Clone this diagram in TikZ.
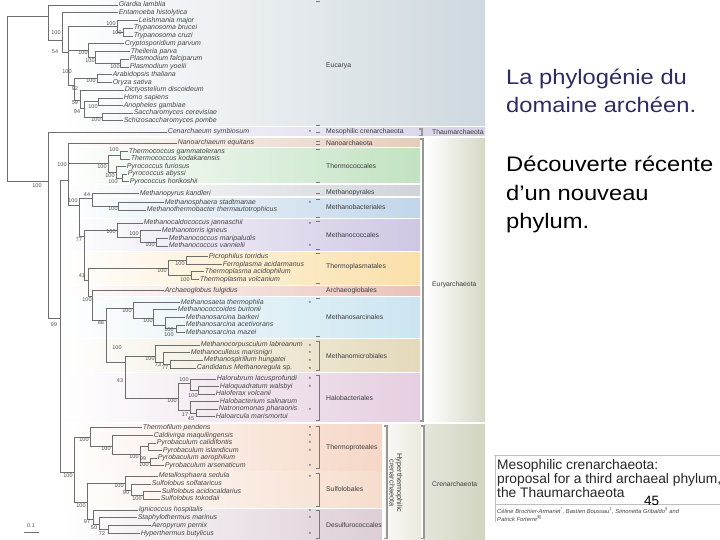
\documentclass[tikz,border=0pt]{standalone}
\usepackage{fontspec}
\setmainfont{Liberation Sans}
\usepackage{tikz}
\definecolor{treegray}{RGB}{110,110,110}
\definecolor{leafgray}{RGB}{70,70,70}
\definecolor{bootgray}{RGB}{80,80,80}
\definecolor{grpgray}{RGB}{60,60,60}
\definecolor{tickgray}{RGB}{120,120,120}
\definecolor{cladegray}{RGB}{150,150,150}
\definecolor{titleblue}{RGB}{44,44,98}
\definecolor{cEuc}{RGB}{206,216,222}
\definecolor{cMeso}{RGB}{214,209,230}
\definecolor{cNano}{RGB}{229,205,188}
\definecolor{cTcoc}{RGB}{194,226,194}
\definecolor{cMpyr}{RGB}{208,212,217}
\definecolor{cMbac}{RGB}{193,214,234}
\definecolor{cMcoc}{RGB}{206,199,227}
\definecolor{cTpla}{RGB}{250,223,168}
\definecolor{cArch}{RGB}{233,194,186}
\definecolor{cMsar}{RGB}{203,229,240}
\definecolor{cMmic}{RGB}{228,217,186}
\definecolor{cHalo}{RGB}{229,206,224}
\definecolor{cTpro}{RGB}{245,215,198}
\definecolor{cSulf}{RGB}{246,221,205}
\definecolor{cDesu}{RGB}{221,206,213}
\definecolor{cEury}{RGB}{214,216,198}
\definecolor{cCren}{RGB}{210,213,193}
\definecolor{cHyp}{RGB}{236,234,222}
\tikzstyle{branch} = [draw=treegray, line width=0.55pt]
\tikzstyle{leaf} = [anchor=west, inner sep=0.6pt, text height=5pt, text depth=1.5pt, text=leafgray, font=\fontsize{7}{8}\selectfont\itshape]
\tikzstyle{boot} = [inner sep=0pt, text=bootgray, font=\fontsize{5.5}{6}\selectfont]
\tikzstyle{grp} = [anchor=west, inner sep=0pt, text=grpgray, font=\fontsize{6.8}{8}\selectfont]
\tikzstyle{star} = [inner sep=0pt, text=grpgray, font=\fontsize{6}{6}\selectfont]
\tikzstyle{tick} = [draw=tickgray, line width=0.5pt]
\tikzstyle{clade} = [draw=cladegray, line width=1.1pt]
\tikzstyle{boxline} = [draw=black!25, line width=0.7pt]
\tikzstyle{headline} = [anchor=base west, inner sep=0pt, font=\fontsize{21}{28}\selectfont]

\begin{document}
\begin{tikzpicture}[x=1pt,y=-1pt]
    \useasboundingbox (0,0) rectangle (720,540);

    % clade bands
    \foreach \ya/\yb/\xr/\c in {0/126/485/cEuc, 128/136/485/cMeso,
        138.5/146.5/420/cNano, 148.5/183/420/cTcoc, 186/196/420/cMpyr,
        198.5/218/420/cMbac, 220/250/420/cMcoc, 252/284.5/420/cTpla,
        286/295.5/420/cArch, 297.5/337.5/420/cMsar, 339.5/371.5/420/cMmic,
        373.5/421.5/420/cHalo, 424.5/470/382/cTpro, 471.5/507.5/382/cSulf,
        509/540/382/cDesu}{
        \shade[left color=white, right color=\c] (60,\ya) rectangle (\xr,\yb);
    }
    \shade[left color=white, right color=cEury] (425,138.5) rectangle (485,421.5);
    \shade[left color=cHyp!30, right color=cHyp] (384,424.5) rectangle (421,540);
    \shade[left color=cCren!60, right color=cCren] (424,424.5) rectangle (485,540);

    % internal nodes of the tree
    \foreach \n/\x/\y in {root/7/100, nE/48/16, nE1/62/40, nE2/68/52,
        nKin/117/26.4, nTry/123/32, nApi/88/50, nTP/95/57.3, nPl/120/63,
        nPD/74/85, nPlant/97/78.5, nDO/80/100, nOp/84/108, nAnim/98/101.6,
        nFungi/102/116.8, nA/48/181, nA1/60/318, nEu/68/180, nTc/108/163,
        nTk/120/155.2, nPy/116/172, nPy2/122/177.8, nEu1/79/205,
        nMpMb/92/198, nMb/118/206.2, nEu2/84/236, nMc/117/230,
        nMc1/140/237, nMc2/156/242, nEu3/88/280, nTp/168/268,
        nPF/186/260.5, nTa/191/275.5, nEu4/92/296, nEu5/106/320,
        nMs/133/308, nMs1/153/318, nMs2/165/325, nMs3/176/328.7,
        nEu6/125/362, nMm/155/356, nMm1/163/362, nMm2/170/364,
        nHb/178/398, nHb1/190/383, nHb3/198/390.2, nHb2/190/410,
        nHb4/196/412.9, nC/74/472, nTpr/90/437, nTpr1/112/446,
        nPb/140/454, nPb1/148/446.6, nPb2/150/461.8, nSD/87/502,
        nSulf/125/483, nSu1/131/490, nSu2/143/495.2, nDes/93/519,
        nDes1/99/524, nDes2/108/529.5}{
        \coordinate (\n) at (\x,\y);
    }

    % species
    \foreach \n/\x/\y/\t in {giardia/118/5/Giardia lamblia,
        entam/118/12.7/Entamoeba histolytica,
        leish/138/20.7/Leishmania major,
        tbru/133/28.2/Trypanosoma brucei,
        tcru/133/35.8/Trypanosoma cruzi,
        crypto/124/43.7/Cryptosporidium parvum,
        theil/130/51.6/Theileria parva,
        pfal/129/59.2/Plasmodium falciparum,
        pyoe/129/66.8/Plasmodium yoelii,
        arab/112/74.7/Arabidopsis thaliana,
        oryza/112/82.3/Oryza sativa,
        dicty/124/90.2/Dictyostelium discoideum,
        homo/123/97.8/Homo sapiens,
        anoph/123/105.4/Anopheles gambiae,
        sacch/133/113/Saccharomyces cerevisiae,
        schizo/123/120.5/Schizosaccharomyces pombe,
        cenar/167/131.9/Cenarchaeum symbiosum,
        nano/177/142.9/Nanoarchaeum equitans,
        tgam/128/151.5/Thermococcus gammatolerans,
        tkod/130/159/Thermococcus kodakarensis,
        pfur/126/166.7/Pyrococcus furiosus,
        paby/127/174.2/Pyrococcus abyssi,
        phor/129/181.5/Pyrococcus horikoshii,
        mkan/139/193.5/Methanopyrus kandleri,
        msta/164/202.5/Methanosphaera stadtmanae,
        mthe/146/210/Methanothermobacter thermautotrophicus,
        mjan/143/223/Methanocaldococcus jannaschii,
        mign/161/230.7/Methanotorris igneus,
        mmar/168/238.3/Methanococcus maripaludis,
        mvan/168/245.9/Methanococcus vannielii,
        ptor/208/256.5/Picrophilus torridus,
        facid/222/264.5/Ferroplasma acidarmanus,
        taci/204/271.7/Thermoplasma acidophilum,
        tvol/199/279.3/Thermoplasma volcanium,
        arch/164/290.3/Archaeoglobus fulgidus,
        msae/180/302.7/Methanosaeta thermophila,
        mbur/177/309.6/Methanococcoides burtonii,
        mbar/185/317.5/Methanosarcina barkeri,
        mace/185/325/Methanosarcina acetivorans,
        mmaz/185/332.3/Methanosarcina mazei,
        mcor/200/345/Methanocorpusculum labreanum,
        mcul/190/352.6/Methanoculleus marisnigri,
        mspi/203/360.2/Methanospirillum hungatei,
        cand/196/368.1/Candidatus Methanoregula {\upshape sp.},
        hlac/216/378.8/Halorubrum lacusprofundi,
        hwal/219/386.4/Haloquadratum walsbyi,
        hvol/215/394/Haloferax volcanii,
        hsal/219/401.5/Halobacterium salinarum,
        npha/218/409.1/Natronomonas pharaonis,
        hmar/215/416.7/Haloarcula marismortui,
        tpen/142/427.7/Thermofilum pendens,
        cmaq/153/435.3/Caldivirga maquilingensis,
        pcal/156/442.8/Pyrobaculum calidifontis,
        pisl/162/450.4/Pyrobaculum islandicum,
        paer/157/458/Pyrobaculum aerophilum,
        pars/164/465.6/Pyrobaculum arsenaticum,
        msed/158/476.2/Metallosphaera sedula,
        ssol/151/483.8/Sulfolobus solfataricus,
        saci/161/491.4/Sulfolobus acidocaldarius,
        stok/160/499/Sulfolobus tokodaii,
        ihos/138/510/Ignicoccus hospitalis,
        smar/137/517.6/Staphylothermus marinus,
        aper/151/525.5/Aeropyrum pernix,
        hbut/140/533.4/Hyperthermus butylicus}{
        \node[leaf] (\n) at (\x,\y) {\t};
    }

    % branches
    \foreach \p/\c in {root/nE, root/nA, nE/giardia, nE/nE1, nE1/entam,
        nE1/nE2, nE2/nKin, nE2/nApi, nE2/nPD, nKin/leish, nKin/nTry,
        nTry/tbru, nTry/tcru, nApi/crypto, nApi/nTP, nTP/theil, nTP/nPl,
        nPl/pfal, nPl/pyoe, nPD/nPlant, nPD/nDO, nPlant/arab,
        nPlant/oryza, nDO/dicty, nDO/nOp, nOp/nAnim, nOp/nFungi,
        nAnim/homo, nAnim/anoph, nFungi/sacch, nFungi/schizo,
        nA/cenar, nA/nA1, nA1/nEu, nA1/nC, nEu/nano, nEu/nTc, nEu/nEu1,
        nTc/nTk, nTc/nPy, nTk/tgam, nTk/tkod, nPy/pfur, nPy/nPy2,
        nPy2/paby, nPy2/phor, nEu1/nMpMb, nEu1/nEu2, nMpMb/mkan,
        nMpMb/nMb, nMb/msta, nMb/mthe, nEu2/nMc, nEu2/nEu3, nMc/mjan,
        nMc/nMc1, nMc1/mign, nMc1/nMc2, nMc2/mmar, nMc2/mvan, nEu3/nTp,
        nEu3/nEu4, nTp/nPF, nTp/nTa, nPF/ptor, nPF/facid, nTa/taci,
        nTa/tvol, nEu4/arch, nEu4/nEu5, nEu5/nMs, nEu5/nEu6, nMs/msae,
        nMs/nMs1, nMs1/mbur, nMs1/nMs2, nMs2/mbar, nMs2/nMs3, nMs3/mace,
        nMs3/mmaz, nEu6/nMm, nEu6/nHb, nMm/mcor, nMm/nMm1, nMm1/mcul,
        nMm1/nMm2, nMm2/mspi, nMm2/cand, nHb/nHb1, nHb/nHb2, nHb1/hlac,
        nHb1/nHb3, nHb3/hwal, nHb3/hvol, nHb2/hsal, nHb2/nHb4,
        nHb4/npha, nHb4/hmar, nC/nTpr, nC/nSD, nTpr/tpen, nTpr/nTpr1,
        nTpr1/cmaq, nTpr1/nPb, nPb/nPb1, nPb/nPb2, nPb1/pcal, nPb1/pisl,
        nPb2/paer, nPb2/pars, nSD/nSulf, nSD/nDes, nSulf/msed,
        nSulf/nSu1, nSu1/ssol, nSu1/nSu2, nSu2/saci, nSu2/stok,
        nDes/ihos, nDes/nDes1, nDes1/smar, nDes1/nDes2, nDes2/aper,
        nDes2/hbut}{
        \draw[branch] (\p) |- (\c);
    }

    % bootstrap values
    \foreach \x/\y/\v [count=\i] in {37/186/100, 56/33/100, 55/52/54,
        67/72/100, 111/24/100, 117/33/100, 83/53/100, 90/61/100,
        115/67/100, 91/81/100, 75/89/92, 75/103/59, 93/107/100,
        77/112/94, 96/120/100, 54/325/99, 62/165/100, 73/201/100,
        87/195/44, 79/240/77, 82/276/41, 87/300/100, 101/323/88,
        117/348/100, 120/381/43, 114/150/100, 102/167/100, 110/176/100,
        113/182/100, 113/209/100, 111/232/100, 134/234/100, 150/245/100,
        180/264/100, 162/271/100, 185/280/100, 127/311/100,
        148/321/100, 169/330/100, 169/335/100, 150/359/100, 158/365/73,
        165/368/77, 184/380/100, 193/396/100, 172/401/100, 185/415/17,
        191/419/45, 68/476/100, 81/506/100, 84/440/100, 106/449/100,
        134/457/100, 143/459/99, 144/465/100, 119/486/100, 126/493/90,
        137/499/100, 87/522/97, 94/528/50, 102/534/72}{
        \node[boot] (bs\i) at (\x,\y) {\v};
    }

    % scale bar
    \node[boot] (scale) at (31,526) {0.1};
    \draw[branch] (24,532) -- (39,532);

    % asterisks
    \foreach \y [count=\i] in {131.9, 202.5, 223, 245.9, 302.7, 345,
        352.6, 360.2, 368.1, 378.8, 386.4, 409.1, 427.7, 435.3, 442.8,
        450.4, 465.6, 476.2, 510, 517.6, 533.4}{
        \node[star] (ast\i) at (310,\y+1) {*};
    }

    % ticks and brackets of the orders
    \foreach \y in {1, 125, 132, 141.5, 144.5, 149.5, 182, 193, 199.5,
        217, 221, 249, 253, 283.5, 298.5, 336}{
        \draw[tick] (316,\y) -- (320,\y);
    }
    \foreach \ya/\yb in {341/370, 375/420, 426/468.5, 473/506, 510.5/538.5}{
        \draw[tick] (316,\ya) -- (319,\ya) -- (319,\yb) -- (316,\yb);
    }
    \draw[clade] (419,129) -- (422,129) -- (422,135.5) -- (419,135.5);
    \draw[clade] (420,139) -- (423,139) -- (423,421) -- (420,421);
    \draw[clade] (384,426) -- (387,426) -- (387,538.5) -- (384,538.5);
    \draw[clade] (421,426) -- (424,426) -- (424,538.5) -- (421,538.5);

    % order and phylum names
    \foreach \n/\x/\y/\t in {lEuc/326/66/Eucarya,
        lMeso/326/132/Mesophilic crenarchaeota,
        lNano/326/143/Nanoarchaeota, lTcoc/326/166/Thermococcales,
        lMpyr/326/193/Methanopyrales, lMbac/326/207/Methanobacteriales,
        lMcoc/326/235/Methanococcales, lTpla/326/267/Thermoplasmatales,
        lArch/326/290.5/Archaeoglobales, lMsar/326/317/Methanosarcinales,
        lMmic/326/356/Methanomicrobiales, lHalo/326/398/Halobacteriales,
        lTpro/326/448/Thermoproteales, lSulf/326/489/Sulfolobales,
        lDesu/326/525/Desulfurococcales, lThau/432/132/Thaumarchaeota,
        lEury/432/285/Euryarchaeota, lCren/432/484/Crenarchaeota}{
        \node[grp] (\n) at (\x,\y) {\t};
    }
    \node[grp, anchor=center, rotate=-90, align=center,
        font=\fontsize{7.3}{7.5}\selectfont] (lHyp) at (396,483)
        {Hyperthermophilic\\crenarchaeota};

    % slide text
    \node[headline, text=titleblue] (t1) at (506,85) {\scalebox{1.13}[1]{La phylogénie du}};
    \node[headline, text=titleblue] (t2) at (506,113) {\scalebox{1.13}[1]{domaine archéen.}};
    \node[headline] (t3) at (506,172) {\scalebox{1.13}[1]{Découverte récente}};
    \node[headline] (t4) at (506,200.5) {\scalebox{1.13}[1]{d’un nouveau}};
    \node[headline] (t5) at (506,229) {\scalebox{1.13}[1]{phylum.}};

    % paper title
    \draw[boxline] (494,455) -- (720,455);
    \draw[boxline] (495,455) -- (495,522);
    \draw[boxline] (495,504.5) -- (720,504.5);
    \node[anchor=base west, inner sep=0pt, font=\fontsize{13.8}{14}\selectfont, text=black!85] (p1) at (497,469) {Mesophilic crenarchaeota:};
    \node[anchor=base west, inner sep=0pt, font=\fontsize{13.8}{14}\selectfont, text=black!85] (p2) at (497,483) {proposal for a third archaeal phylum,};
    \node[anchor=base west, inner sep=0pt, font=\fontsize{13.8}{14}\selectfont, text=black!85] (p3) at (497,497) {the Thaumarchaeota};
    \node[anchor=base west, inner sep=0pt, font=\fontsize{5.8}{7}\selectfont\itshape, text=black!75] (au1) at (497,513.5)
        {Céline Brochier-Armanet\textsuperscript{*}, Bastien Boussau\textsuperscript{‡}, Simonetta Gribaldo\textsuperscript{§} and};
    \node[anchor=base west, inner sep=0pt, font=\fontsize{5.8}{7}\selectfont\itshape, text=black!75] (au2) at (497,521)
        {Patrick Forterre\textsuperscript{§||}};
    \node[anchor=base west, inner sep=0pt, font=\fontsize{13.5}{14}\selectfont] (page) at (644,505) {45};
\end{tikzpicture}
\end{document}
